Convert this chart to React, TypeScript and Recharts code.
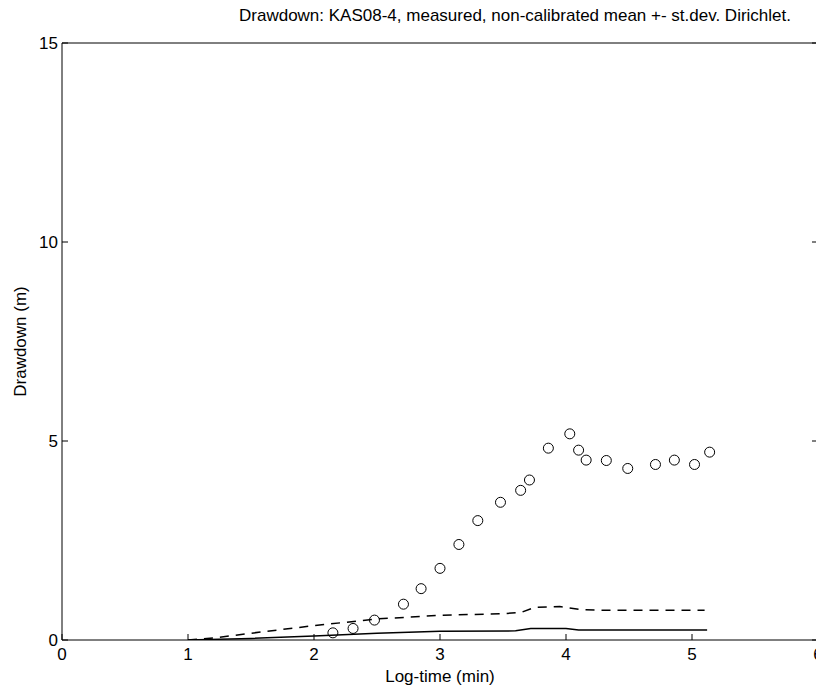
import React from 'react';
import { ComposedChart, XAxis, YAxis, Line, Scatter, Label } from 'recharts';

const measuredX = [2.15, 2.31, 2.48, 2.71, 2.85, 3.0, 3.15, 3.3, 3.48, 3.64, 3.71, 3.86, 4.03, 4.1, 4.16, 4.32, 4.49, 4.71, 4.86, 5.02, 5.14];
const measuredY = [0.18, 0.29, 0.5, 0.9, 1.29, 1.8, 2.4, 3.0, 3.46, 3.76, 4.02, 4.82, 5.18, 4.77, 4.52, 4.51, 4.31, 4.41, 4.52, 4.41, 4.72];

const upperX = [1.0, 1.2, 1.5, 2.0, 2.5, 3.0, 3.5, 3.65, 3.75, 3.95, 4.1, 4.25, 5.1];
const upperY = [0.0, 0.05, 0.17, 0.36, 0.53, 0.62, 0.66, 0.7, 0.82, 0.84, 0.77, 0.75, 0.75];

const meanX = [1.0, 1.5, 2.0, 2.5, 3.0, 3.6, 3.72, 4.0, 4.1, 5.12];
const meanY = [0.0, 0.04, 0.1, 0.17, 0.22, 0.23, 0.29, 0.29, 0.25, 0.25];

const xTicks = [0, 1, 2, 3, 4, 5, 6];
const yTicks = [0, 5, 10, 15];

const title = 'Drawdown: KAS08-4, measured, non-calibrated mean +- st.dev. Dirichlet.';
const xLabel = 'Log-time (min)';
const yLabel = 'Drawdown (m)';

const measured = measuredX.map((x, i) => ({ x, y: measuredY[i] }));
const upper = upperX.map((x, i) => ({ x, y: upperY[i] }));
const mean = meanX.map((x, i) => ({ x, y: meanY[i] }));

const FONT = '"Liberation Sans", Arial, sans-serif';

const Circle = (props: any) => (
  <circle cx={props.cx} cy={props.cy} r={5} fill="none" stroke="#000" strokeWidth={1} />
);

const NoLabel = () => <g />;

export default function App() {
  return (
    <div style={{ position: 'relative', width: 816, height: 679, fontFamily: FONT }}>
      <style>{'html,body{overflow:hidden;}'}</style>
      <ComposedChart
        width={816}
        height={679}
        margin={{ top: 5, right: 5, bottom: 17, left: 4 }}
        style={{ fontFamily: FONT, overflow: 'visible' }}
      >
        <XAxis
          xAxisId="b"
          dataKey="x"
          type="number"
          domain={[0, 6]}
          ticks={xTicks}
          allowDataOverflow
          tickSize={-6}
          tickMargin={14}
          tick={{ fill: '#000', fontSize: 17 }}
          axisLine={{ stroke: '#000' }}
          tickLine={{ stroke: '#000' }}
          height={30}
        >
          <Label value={xLabel} position="insideBottom" offset={-12} style={{ fill: '#000', fontSize: 17 }} />
        </XAxis>
        <XAxis
          xAxisId="t"
          orientation="top"
          type="number"
          domain={[0, 6]}
          ticks={xTicks}
          allowDataOverflow
          tickSize={-6}
          tick={NoLabel}
          axisLine={{ stroke: '#000' }}
          tickLine={{ stroke: '#000' }}
          height={30}
        />
        <YAxis
          yAxisId="l"
          type="number"
          domain={[0, 15]}
          ticks={yTicks}
          allowDataOverflow
          tickSize={-6}
          tickMargin={10}
          tick={{ fill: '#000', fontSize: 17 }}
          axisLine={{ stroke: '#000' }}
          tickLine={{ stroke: '#000' }}
          width={50}
        >
          <Label
            value={yLabel}
            angle={-90}
            position="insideLeft"
            offset={8}
            style={{ fill: '#000', fontSize: 17, textAnchor: 'middle' }}
          />
        </YAxis>
        <YAxis
          yAxisId="r"
          orientation="right"
          type="number"
          domain={[0, 15]}
          ticks={yTicks}
          allowDataOverflow
          tickSize={-6}
          tick={NoLabel}
          axisLine={{ stroke: '#000' }}
          tickLine={{ stroke: '#000' }}
          width={1}
        />
        <Line
          xAxisId="b"
          yAxisId="l"
          data={upper}
          dataKey="y"
          type="linear"
          stroke="#000"
          strokeWidth={1.5}
          strokeDasharray="9 7"
          dot={false}
          isAnimationActive={false}
        />
        <Line
          xAxisId="b"
          yAxisId="l"
          data={mean}
          dataKey="y"
          type="linear"
          stroke="#000"
          strokeWidth={1.5}
          dot={false}
          isAnimationActive={false}
        />
        <Scatter
          xAxisId="b"
          yAxisId="l"
          data={measured}
          dataKey="y"
          shape={Circle}
          isAnimationActive={false}
        />
      </ComposedChart>
      <div
        style={{
          position: 'absolute',
          left: 207,
          width: 600,
          top: -2,
          zIndex: 5,
          textAlign: 'center',
          fontSize: 17,
          lineHeight: '20px',
          color: '#000',
          whiteSpace: 'nowrap',
          pointerEvents: 'none',
        }}
      >
        {title}
      </div>
    </div>
  );
}
